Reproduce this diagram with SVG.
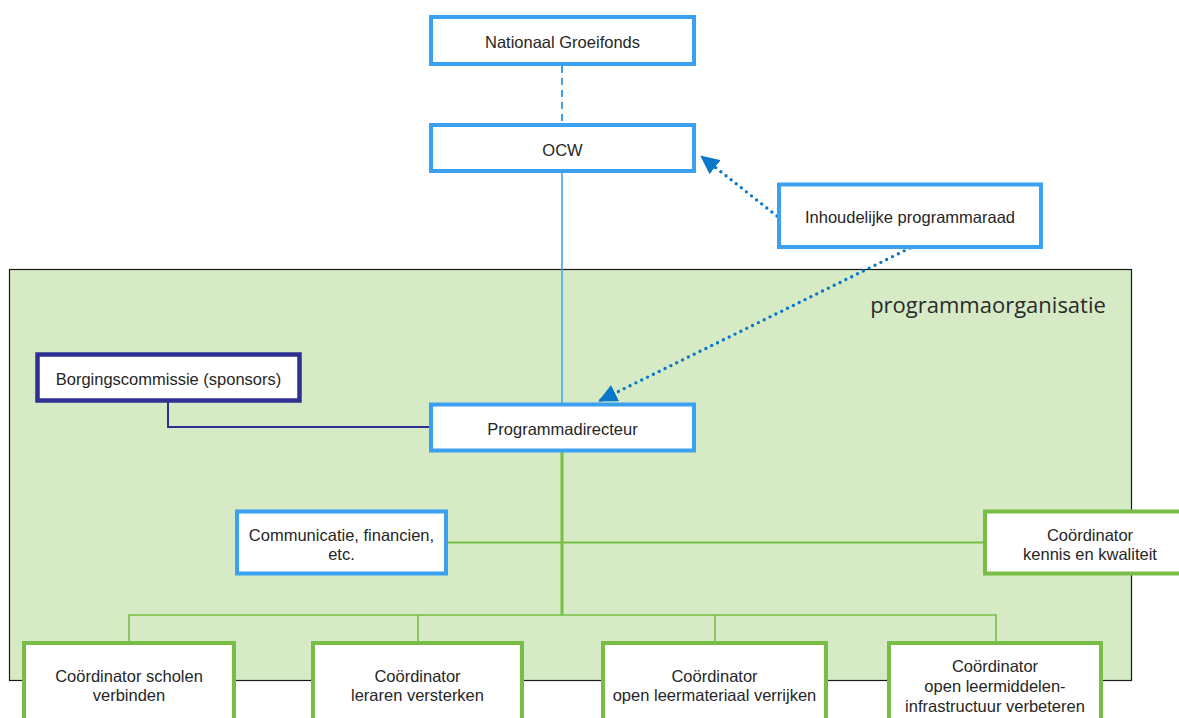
<svg xmlns="http://www.w3.org/2000/svg" width="1179" height="718" viewBox="0 0 1179 718">
<style>
.t{font-family:"Liberation Sans",Arial,Helvetica,sans-serif;font-size:16.5px;fill:#262626;text-anchor:middle}
.bb{fill:#fff;stroke:#3ba0f0;stroke-width:4}
.gb{fill:#fff;stroke:#78be46;stroke-width:4}
.nb{fill:#fff;stroke:#2e3192;stroke-width:4.5}
.gl{fill:none;stroke:#78be46}
.dot{fill:none;stroke:#0a78c8;stroke-width:3.4;stroke-linecap:round;stroke-dasharray:0 6.5}
</style>
<defs>
<marker id="ah" markerUnits="userSpaceOnUse" markerWidth="20" markerHeight="18" refX="18" refY="9" orient="auto">
<path d="M0,0 L19,9 L0,18 Z" fill="#0a78c8"/>
</marker>
</defs>
<g id="programmaorganisatie">
<rect x="9.5" y="269.5" width="1122" height="411" fill="#d5eac5" stroke="#1a1a1a" stroke-width="1.2"/>
<text x="988" y="313" style="font-family:'Open Sans','Noto Sans',sans-serif;font-size:22px;fill:#2b2b2b;text-anchor:middle">programmaorganisatie</text>
</g>
<g id="connectors">
<line x1="562" y1="66" x2="562" y2="124" stroke="#3ba0f0" stroke-width="2" stroke-dasharray="7 5"/>
<line x1="562" y1="172" x2="562" y2="403" stroke="#3ba0f0" stroke-width="1.5"/>
<path d="M168,402 V427 H431" fill="none" stroke="#2e3192" stroke-width="2"/>
<line class="gl" x1="562" y1="452" x2="562" y2="615" stroke-width="3"/>
<line class="gl" x1="446" y1="542.5" x2="985" y2="542.5" stroke-width="2"/>
<path class="gl" d="M129,641 V615 H996 V641 M418,615 V641 M715,615 V641" stroke-width="1.6"/>
<line class="dot" x1="777" y1="216" x2="701" y2="156" marker-end="url(#ah)"/>
<line class="dot" x1="910" y1="248" x2="599" y2="401" marker-end="url(#ah)"/>
</g>
<g id="nationaal-groeifonds">
<rect class="bb" x="431" y="17" width="263" height="47"/>
<text class="t" x="562.5" y="48">Nationaal Groeifonds</text>
</g>
<g id="ocw">
<rect class="bb" x="431" y="125" width="263" height="46"/>
<text class="t" x="562.5" y="155.5">OCW</text>
</g>
<g id="inhoudelijke-programmaraad">
<rect class="bb" x="779" y="184.5" width="262" height="62.5"/>
<text class="t" x="910" y="223">Inhoudelijke programmaraad</text>
</g>
<g id="borgingscommissie">
<rect class="nb" x="37.5" y="354.5" width="262" height="46"/>
<text class="t" x="168.5" y="385">Borgingscommissie (sponsors)</text>
</g>
<g id="programmadirecteur">
<rect class="bb" x="431" y="404.5" width="263" height="46"/>
<text class="t" x="562.5" y="435">Programmadirecteur</text>
</g>
<g id="communicatie">
<rect class="bb" x="237" y="511.5" width="209" height="62"/>
<text class="t" x="341.5" y="540.5">Communicatie, financien,</text>
<text class="t" x="341.5" y="559.5">etc.</text>
</g>
<g id="coordinator-kennis">
<rect class="gb" x="985" y="511.5" width="212" height="62"/>
<text class="t" x="1090" y="540.5">Coördinator</text>
<text class="t" x="1090" y="559.5">kennis en kwaliteit</text>
</g>
<g id="coordinator-scholen">
<rect class="gb" x="24" y="643" width="210" height="90"/>
<text class="t" x="129" y="681.5">Coördinator scholen</text>
<text class="t" x="129" y="700.5">verbinden</text>
</g>
<g id="coordinator-leraren">
<rect class="gb" x="313" y="643" width="209" height="90"/>
<text class="t" x="417.5" y="681.5">Coördinator</text>
<text class="t" x="417.5" y="700.5">leraren versterken</text>
</g>
<g id="coordinator-leermateriaal">
<rect class="gb" x="603" y="643" width="223" height="90"/>
<text class="t" x="714.5" y="681.5">Coördinator</text>
<text class="t" x="714.5" y="700.5">open leermateriaal verrijken</text>
</g>
<g id="coordinator-infrastructuur">
<rect class="gb" x="889" y="643" width="212" height="90"/>
<text class="t" x="995" y="671.5">Coördinator</text>
<text class="t" x="995" y="691.5">open leermiddelen-</text>
<text class="t" x="995" y="711.5">infrastructuur verbeteren</text>
</g>
</svg>
